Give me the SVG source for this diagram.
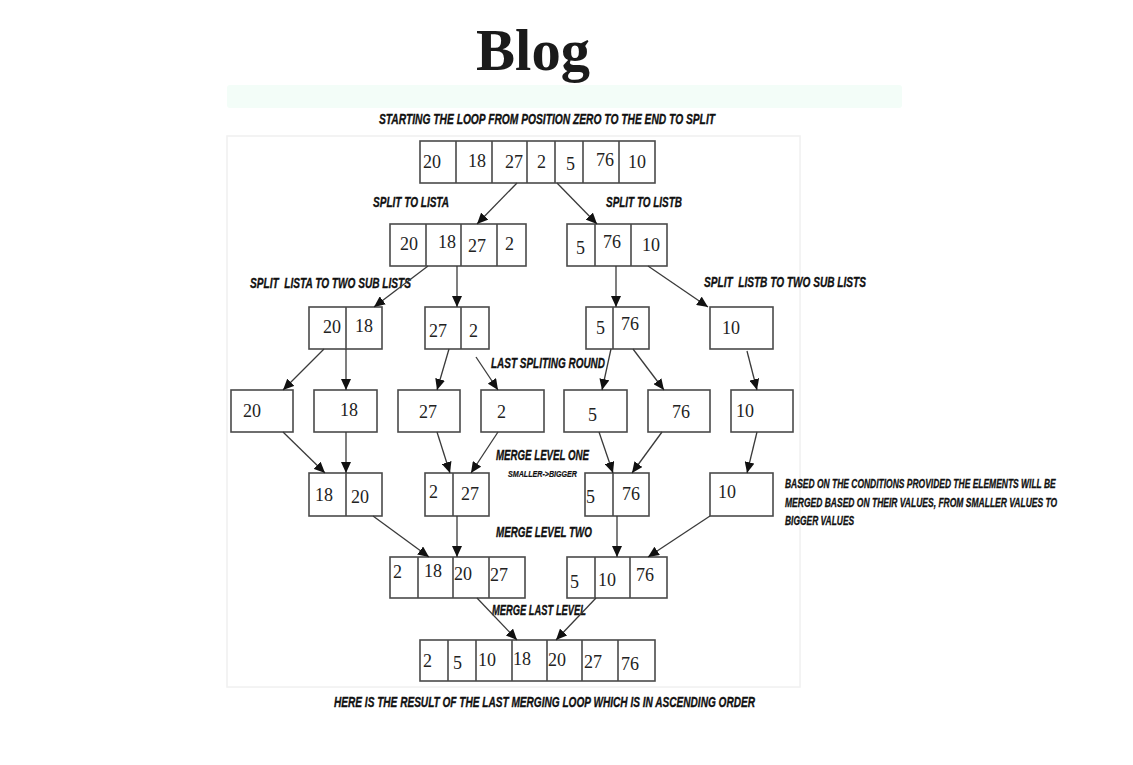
<svg xmlns="http://www.w3.org/2000/svg" width="1133" height="765" viewBox="0 0 1133 765">
<defs>
<marker id="ah" markerUnits="userSpaceOnUse" markerWidth="12" markerHeight="10" refX="11" refY="5" orient="auto">
<path d="M0,0 L11,5 L0,10 z" fill="#111"/>
</marker>
<style>
.box{fill:#fff;stroke:#4a4a4a;stroke-width:1.6}
.div{stroke:#4a4a4a;stroke-width:1.6}
.num{font-family:"Liberation Serif",serif;font-size:18px;fill:#222}
.cap{font-family:"Liberation Sans",Arial,sans-serif;font-weight:bold;font-style:italic;font-size:15px;fill:#111;stroke:#111;stroke-width:0.35;white-space:pre}
.small{font-size:12px;stroke-width:0.3}
.tiny{font-size:9px;stroke-width:0.2}
.arr line{stroke:#3a3a3a;stroke-width:1.3;marker-end:url(#ah)}
</style>
</defs>
<rect width="1133" height="765" fill="#fff"/>
<text x="533" y="70" text-anchor="middle" font-family="'Liberation Serif',serif" font-weight="bold" font-size="60" fill="#1a1a1a" textLength="114" lengthAdjust="spacingAndGlyphs">Blog</text>
<rect x="227" y="85" width="675" height="23" rx="3" fill="#f3fdf8"/>
<rect x="227" y="136" width="573" height="551" fill="#fff" stroke="#f0f0f0" stroke-width="1.5"/>

<g id="captions">
<text class="cap" x="379" y="124" textLength="336" lengthAdjust="spacingAndGlyphs">STARTING THE LOOP FROM POSITION ZERO TO THE END TO SPLIT</text>
<text class="cap" x="373" y="207" textLength="76" lengthAdjust="spacingAndGlyphs">SPLIT TO LISTA</text>
<text class="cap" x="606" y="207" textLength="76" lengthAdjust="spacingAndGlyphs">SPLIT TO LISTB</text>
<text class="cap" x="250" y="288" textLength="161" lengthAdjust="spacingAndGlyphs">SPLIT  LISTA TO TWO SUB LISTS</text>
<text class="cap" x="704" y="287" textLength="162" lengthAdjust="spacingAndGlyphs">SPLIT  LISTB TO TWO SUB LISTS</text>
<text class="cap" x="491" y="368" textLength="114" lengthAdjust="spacingAndGlyphs">LAST SPLITING ROUND</text>
<text class="cap" x="496" y="460" textLength="93" lengthAdjust="spacingAndGlyphs">MERGE LEVEL ONE</text>
<text class="cap tiny" x="508" y="477" textLength="69" lengthAdjust="spacingAndGlyphs">SMALLER-&gt;BIGGER</text>
<text class="cap" x="496" y="537" textLength="96" lengthAdjust="spacingAndGlyphs">MERGE LEVEL TWO</text>
<text class="cap" x="492" y="615" textLength="94" lengthAdjust="spacingAndGlyphs">MERGE LAST LEVEL</text>
<text class="cap small" transform="translate(785,488) scale(0.72,1)" x="0" y="0" textLength="376" lengthAdjust="spacingAndGlyphs">BASED ON THE CONDITIONS PROVIDED THE ELEMENTS WILL BE</text>
<text class="cap small" transform="translate(785,507) scale(0.72,1)" x="0" y="0" textLength="378" lengthAdjust="spacingAndGlyphs">MERGED BASED ON THEIR VALUES, FROM SMALLER VALUES TO</text>
<text class="cap small" transform="translate(785,525) scale(0.72,1)" x="0" y="0" textLength="96" lengthAdjust="spacingAndGlyphs">BIGGER VALUES</text>
<text class="cap" x="334" y="707" textLength="421" lengthAdjust="spacingAndGlyphs">HERE IS THE RESULT OF THE LAST MERGING LOOP WHICH IS IN ASCENDING ORDER</text>
</g>

<g id="n-top">
<rect class="box" x="420" y="141" width="235" height="42"/>
<path class="div" d="M456,141V183M492,141V183M527,141V183M555,141V183M583,141V183M619,141V183"/>
<text class="num" x="423" y="168">20</text><text class="num" x="468" y="167">18</text><text class="num" x="505" y="168">27</text><text class="num" x="537" y="168">2</text><text class="num" x="566" y="170">5</text><text class="num" x="596" y="166">76</text><text class="num" x="628" y="168">10</text>
</g>

<g id="n-lista">
<rect class="box" x="390" y="224" width="136" height="42"/>
<path class="div" d="M426,224V266M461,224V266M497,224V266"/>
<text class="num" x="400" y="250">20</text><text class="num" x="438" y="248">18</text><text class="num" x="468" y="252">27</text><text class="num" x="505" y="250">2</text>
</g>
<g id="n-listb">
<rect class="box" x="567" y="224" width="100" height="42"/>
<path class="div" d="M595,224V266M631,224V266"/>
<text class="num" x="576" y="254">5</text><text class="num" x="603" y="248">76</text><text class="num" x="642" y="251">10</text>
</g>

<g id="n-2018">
<rect class="box" x="309" y="307" width="73" height="42"/>
<path class="div" d="M346,307V349"/>
<text class="num" x="323" y="333">20</text><text class="num" x="355" y="332">18</text>
</g>
<g id="n-272">
<rect class="box" x="425" y="307" width="64" height="42"/>
<path class="div" d="M461,307V349"/>
<text class="num" x="429" y="337">27</text><text class="num" x="469" y="337">2</text>
</g>
<g id="n-576">
<rect class="box" x="586" y="307" width="63" height="42"/>
<path class="div" d="M613,307V349"/>
<text class="num" x="596" y="334">5</text><text class="num" x="621" y="330">76</text>
</g>
<g id="n-10a">
<rect class="box" x="710" y="307" width="63" height="42"/>
<text class="num" x="722" y="334">10</text>
</g>

<g id="n-l4-20"><rect class="box" x="231" y="390" width="62" height="42"/><text class="num" x="243" y="417">20</text></g>
<g id="n-l4-18"><rect class="box" x="314" y="390" width="63" height="42"/><text class="num" x="340" y="416">18</text></g>
<g id="n-l4-27"><rect class="box" x="398" y="390" width="62" height="42"/><text class="num" x="419" y="418">27</text></g>
<g id="n-l4-2"><rect class="box" x="481" y="390" width="63" height="42"/><text class="num" x="497" y="418">2</text></g>
<g id="n-l4-5"><rect class="box" x="564" y="390" width="63" height="42"/><text class="num" x="588" y="421">5</text></g>
<g id="n-l4-76"><rect class="box" x="648" y="390" width="62" height="42"/><text class="num" x="672" y="418">76</text></g>
<g id="n-l4-10"><rect class="box" x="731" y="390" width="62" height="42"/><text class="num" x="736" y="417">10</text></g>

<g id="n-1820">
<rect class="box" x="309" y="473" width="73" height="43"/>
<path class="div" d="M346,473V516"/>
<text class="num" x="315" y="501">18</text><text class="num" x="351" y="503">20</text>
</g>
<g id="n-227">
<rect class="box" x="425" y="473" width="64" height="43"/>
<path class="div" d="M453,473V516"/>
<text class="num" x="429" y="498">2</text><text class="num" x="461" y="500">27</text>
</g>
<g id="n-576b">
<rect class="box" x="585" y="473" width="64" height="43"/>
<path class="div" d="M613,473V516"/>
<text class="num" x="586" y="503">5</text><text class="num" x="622" y="500">76</text>
</g>
<g id="n-10b">
<rect class="box" x="710" y="473" width="63" height="43"/>
<text class="num" x="718" y="498">10</text>
</g>

<g id="n-m2-left">
<rect class="box" x="390" y="557" width="135" height="41"/>
<path class="div" d="M418,557V598M453,557V598M489,557V598"/>
<text class="num" x="393" y="578">2</text><text class="num" x="424" y="577">18</text><text class="num" x="454" y="580">20</text><text class="num" x="490" y="581">27</text>
</g>
<g id="n-m2-right">
<rect class="box" x="567" y="557" width="100" height="41"/>
<path class="div" d="M595,557V598M630,557V598"/>
<text class="num" x="570" y="588">5</text><text class="num" x="598" y="586">10</text><text class="num" x="636" y="581">76</text>
</g>

<g id="n-final">
<rect class="box" x="420" y="640" width="235" height="41"/>
<path class="div" d="M448,640V681M476,640V681M512,640V681M547,640V681M582,640V681M618,640V681"/>
<text class="num" x="423" y="667">2</text><text class="num" x="453" y="669">5</text><text class="num" x="478" y="666">10</text><text class="num" x="513" y="665">18</text><text class="num" x="548" y="666">20</text><text class="num" x="584" y="668">27</text><text class="num" x="621" y="670">76</text>
</g>

<g id="connectors" class="arr">
<line x1="517" y1="183" x2="477" y2="224"/>
<line x1="557" y1="183" x2="597" y2="224"/>
<line x1="428" y1="266" x2="374" y2="307"/>
<line x1="457" y1="266" x2="457" y2="307"/>
<line x1="616" y1="266" x2="616" y2="307"/>
<line x1="648" y1="266" x2="708" y2="307"/>
<line x1="324" y1="349" x2="283" y2="390"/>
<line x1="346" y1="349" x2="346" y2="390"/>
<line x1="449" y1="349" x2="437" y2="390"/>
<line x1="476" y1="357" x2="498" y2="390"/>
<line x1="611" y1="349" x2="602" y2="390"/>
<line x1="633" y1="349" x2="664" y2="390"/>
<line x1="747" y1="351" x2="757" y2="390"/>
<line x1="283" y1="432" x2="325" y2="473"/>
<line x1="346" y1="432" x2="346" y2="473"/>
<line x1="437" y1="432" x2="450" y2="473"/>
<line x1="498" y1="432" x2="471" y2="473"/>
<line x1="599" y1="432" x2="613" y2="473"/>
<line x1="662" y1="432" x2="632" y2="473"/>
<line x1="757" y1="432" x2="747" y2="473"/>
<line x1="373" y1="516" x2="429" y2="557"/>
<line x1="457" y1="516" x2="457" y2="557"/>
<line x1="617" y1="516" x2="617" y2="557"/>
<line x1="710" y1="516" x2="648" y2="557"/>
<line x1="477" y1="598" x2="517" y2="640"/>
<line x1="596" y1="598" x2="556" y2="640"/>
</g>
</svg>
